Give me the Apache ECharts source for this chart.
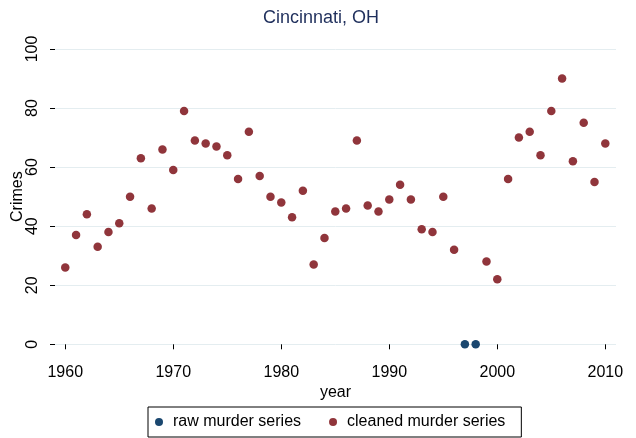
<!DOCTYPE html>
<html>
<head>
<meta charset="utf-8">
<script src="https://cdn.jsdelivr.net/npm/echarts@6/dist/echarts.min.js"></script>
<style>
  html, body { margin: 0; padding: 0; background: #ffffff; }
  #chart { width: 636px; height: 438px; }
</style>
</head>
<body>
<div id="chart"></div>
<script>
const years = [1960,1961,1962,1963,1964,1965,1966,1967,1968,1969,
               1970,1971,1972,1973,1974,1975,1976,1977,1978,1979,
               1980,1981,1982,1983,1984,1985,1986,1987,1988,1989,
               1990,1991,1992,1993,1994,1995,1996,1997,1998,1999,
               2000,2001,2002,2003,2004,2005,2006,2007,2008,2009,2010];
const cleanedMurders = [26,37,44,33,38,41,50,63,46,66,
                        59,79,69,68,67,64,56,72,57,50,
                        48,43,52,27,36,45,46,69,47,45,
                        49,54,49,39,38,50,32,null,null,28,
                        22,56,70,72,64,79,90,62,75,55,68];
const rawMurders = [null,null,null,null,null,null,null,null,null,null,
                    null,null,null,null,null,null,null,null,null,null,
                    null,null,null,null,null,null,null,null,null,null,
                    null,null,null,null,null,null,null,0,0,null,
                    null,null,null,null,null,null,null,null,null,null,null];
const xTickValues = [1960,1970,1980,1990,2000,2010];
const seriesNames = ['raw murder series', 'cleaned murder series'];

const FONT = "'Liberation Sans', Arial, Helvetica, sans-serif";
const toPairs = vals => years.map((y, i) => [y, vals[i]]).filter(p => p[1] !== null);

const chart = echarts.init(document.getElementById('chart'), null, { renderer: 'canvas' });
chart.setOption({
  animation: false,
  backgroundColor: '#ffffff',
  textStyle: { fontFamily: FONT },
  title: {
    text: 'Cincinnati, OH',
    left: 263, top: 9, padding: 0,
    textStyle: { fontFamily: FONT, fontSize: 18, fontWeight: 'normal', color: '#1f2f5c' }
  },
  grid: { left: 55, right: 20, top: 49, bottom: 93.7, containLabel: false, outerBoundsMode: 'none' },
  xAxis: {
    type: 'value',
    min: 1959.05, max: 2010.99,
    offset: 11.7,
    name: 'year', nameLocation: 'middle', nameGap: 29, nameMoveOverlap: false,
    nameTextStyle: { fontFamily: FONT, fontSize: 16, color: '#000' },
    axisLine: { show: false },
    axisTick: { show: true, length: 5, customValues: xTickValues, lineStyle: { color: '#000', width: 1 } },
    axisLabel: { customValues: xTickValues, fontFamily: FONT, fontSize: 16, color: '#000', margin: 9,
                 formatter: v => String(Math.round(v)) },
    splitLine: { show: false }
  },
  yAxis: {
    type: 'value',
    min: 0, max: 100, interval: 20,
    name: 'Crimes', nameLocation: 'middle', nameGap: 29, nameRotate: 90, nameMoveOverlap: false,
    nameTextStyle: { fontFamily: FONT, fontSize: 16, color: '#000' },
    axisLine: { show: false },
    axisTick: { show: true, length: 5, lineStyle: { color: '#000', width: 1 } },
    axisLabel: { rotate: 90, fontFamily: FONT, fontSize: 16, color: '#000', margin: 14 },
    splitLine: { show: true, lineStyle: { color: '#e4edf0', width: 1 } }
  },
  legend: {
    data: seriesNames,
    left: 148, top: 407,
    padding: [7, 16, 7, 7],
    itemWidth: 18, itemHeight: 8, itemGap: 28,
    icon: 'circle',
    borderColor: '#000', borderWidth: 1, borderRadius: 0,
    textStyle: { fontFamily: FONT, fontSize: 16, color: '#000', lineHeight: 16 }
  },
  series: [
    {
      name: seriesNames[0], type: 'scatter', clip: false,
      symbol: 'circle', symbolSize: 8.5,
      itemStyle: { color: '#1a476f', opacity: 1 },
      data: toPairs(rawMurders)
    },
    {
      name: seriesNames[1], type: 'scatter', clip: false,
      symbol: 'circle', symbolSize: 8.5,
      itemStyle: { color: '#90353b', opacity: 1 },
      data: toPairs(cleanedMurders)
    }
  ]
});
</script>
</body>
</html>
